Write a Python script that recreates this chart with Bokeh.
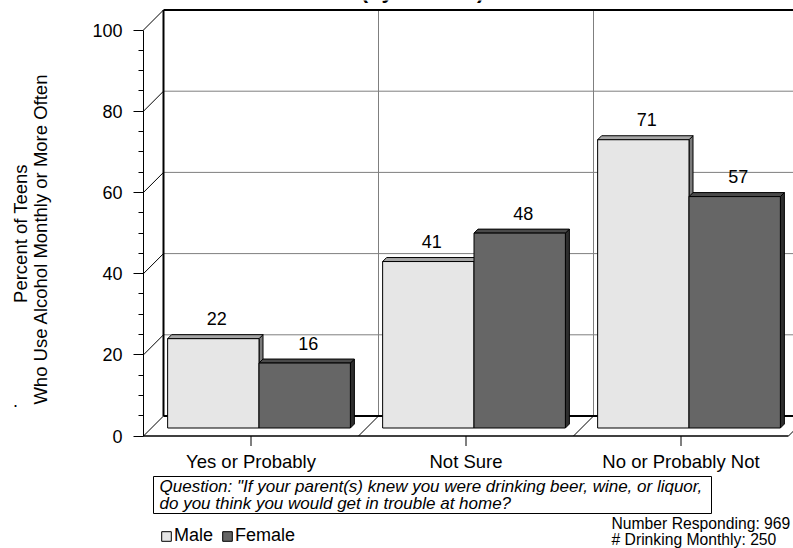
import math
from bokeh.plotting import figure
from bokeh.models import Range1d, LinearAxis, FixedTicker, Legend, LegendItem
from bokeh.core.properties import value
from bokeh.embed import file_html
from bokeh.resources import INLINE

# ---------------- data ----------------
categories = ["Yes or Probably", "Not Sure", "No or Probably Not"]
male = [22, 41, 71]
female = [16, 48, 57]
series_names = ["Male", "Female"]
y_major_ticks = [0, 20, 40, 60, 80, 100]
y_minor_ticks = [5, 10, 15, 25, 30, 35, 45, 50, 55, 65, 70, 75, 85, 90, 95]
axis_title_lines = ["Percent of Teens", "Who Use  Alcohol Monthly or More Often"]
chart_subtitle = "(by Gender)"
question_lines = ['Question:  "If your parent(s) knew you were drinking beer, wine, or liquor,',
                  'do you think you would get in trouble at home?']
number_responding = 969
drinking_monthly = 250

# ---------------- layout / style ----------------
FONT = "Liberation Sans"
PX_X = 215.0      # pixels per category
PX_Y = 4.06       # pixels per percentage point
AXIS_X = 143      # page x of the front value axis
Y0 = 435.5        # page y of value 0 on the front plane
W, H = 793, 548

def ddx(px):
    return px / PX_X

def ddy(px):
    return px / PX_Y

def X(px):
    return (px - AXIS_X) / PX_X

def Y(py):
    return (Y0 - py) / PX_Y

BACK = 20    # depth of the chart box (px)
BAR_D = 8    # depth where bar fronts sit
BAR_T = 4    # bar thickness
GROUP = 0.85
BAR_W = GROUP / 2
ncat = len(categories)
ymax = y_major_ticks[-1]

front_cols = ["#E6E6E6", "#666666"]
top_cols = ["#A6A6A6", "#4A4A4A"]
side_cols = ["#7A7A7A", "#2E2E2E"]
GRID = "#7F7F7F"

p = figure(width=W, height=H, output_backend="svg", toolbar_location=None,
           x_range=Range1d(X(0), X(W)), y_range=Range1d(Y(H), Y(0)),
           x_axis_type=None, y_axis_type=None, min_border=0)
p.outline_line_color = None
p.background_fill_color = "white"
p.border_fill_color = "white"

xb, yb = ddx(BACK), ddy(BACK)

# walls and floor
p.quad(left=xb, right=ncat + xb, bottom=yb, top=ymax + yb, fill_color="white", line_color=None)
p.patch([0, 0, xb, xb], [0, ymax, ymax + yb, yb], fill_color="white", line_color=None)
p.patch([0, ncat, ncat + xb, xb], [0, 0, yb, yb], fill_color="white", line_color=None)

inner = [t for t in y_major_ticks if 0 < t < ymax]
p.segment(x0=[xb] * len(inner), x1=[ncat + xb] * len(inner),
          y0=[t + yb for t in inner], y1=[t + yb for t in inner], line_color=GRID, line_width=1)
bounds_c = list(range(1, ncat))
p.segment(x0=[c + xb for c in bounds_c], x1=[c + xb for c in bounds_c],
          y0=[yb] * len(bounds_c), y1=[ymax + yb] * len(bounds_c), line_color=GRID, line_width=1)
# back wall top edge, left edge and floor back edge
p.segment(x0=[xb, xb, xb], x1=[ncat + xb, xb, ncat + xb],
          y0=[ymax + yb, yb, yb], y1=[ymax + yb, ymax + yb, yb], line_color="black", line_width=2)
# side wall diagonals
p.segment(x0=[0] * len(y_major_ticks), x1=[xb] * len(y_major_ticks),
          y0=y_major_ticks, y1=[t + yb for t in y_major_ticks], line_color="black", line_width=1)
# floor diagonals and front edge
fc = list(range(1, ncat + 1))
p.segment(x0=fc, x1=[c + xb for c in fc], y0=[0] * len(fc), y1=[yb] * len(fc),
          line_color="black", line_width=1)
p.segment(x0=[0], x1=[ncat], y0=[0], y1=[0], line_color="black", line_width=1.5)

# category ticks & labels
centers = [i + 0.5 for i in range(ncat)]
p.segment(x0=centers, x1=centers, y0=[0] * ncat, y1=[-ddy(10)] * ncat, line_color="black")
p.text(x=centers, y=[Y(461)] * ncat, text=categories, text_font=value(FONT),
       text_font_size="18.5px", text_align="center", text_baseline="middle", text_color="black")

# bars
tx, ty = ddx(BAR_T), ddy(BAR_T)
bar_renderers = []
for s, vals in enumerate([male, female]):
    lefts = [i + (1 - GROUP) / 2 + s * BAR_W + ddx(BAR_D) for i in range(ncat)]
    rights = [l + BAR_W for l in lefts]
    bottom = ddy(BAR_D)
    tops = [v + bottom for v in vals]
    side_xs = [[r, r, r + tx, r + tx] for r in rights]
    side_ys = [[bottom, t, t + ty, bottom + ty] for t in tops]
    top_xs = [[l, r, r + tx, l + tx] for l, r in zip(lefts, rights)]
    top_ys = [[t, t, t + ty, t + ty] for t in tops]
    p.patches(side_xs, side_ys, fill_color=side_cols[s], line_color="black", line_width=1)
    p.patches(top_xs, top_ys, fill_color=top_cols[s], line_color="black", line_width=1)
    r = p.quad(left=lefts, right=rights, bottom=[bottom] * ncat, top=tops,
               fill_color=front_cols[s], line_color="black", line_width=1)
    bar_renderers.append(r)
    p.text(x=[l + BAR_W / 2 + ddx(3.5) for l in lefts], y=[t + ddy(20) for t in tops],
           text=[str(v) for v in vals], text_font=value(FONT), text_font_size="18px",
           text_align="center", text_baseline="middle", text_color="black")

# value axis, fixed at the front-left edge of the box
yaxis = LinearAxis(ticker=FixedTicker(ticks=y_major_ticks, minor_ticks=y_minor_ticks),
                   fixed_location=0, bounds=(0, ymax), axis_line_color="black", axis_line_width=1,
                   major_tick_out=10, major_tick_in=0, minor_tick_out=5, minor_tick_in=0,
                   major_tick_line_color="black", minor_tick_line_color="black",
                   major_label_text_font=FONT, major_label_text_font_size="18px",
                   major_label_text_color="black", major_label_standoff=11)
p.add_layout(yaxis, "left")

# axis title (two rotated lines) and the stray dot beside it
p.text(x=[X(20), X(40)], y=[Y(233), Y(236)], text=axis_title_lines, angle=math.pi / 2,
       text_font=value(FONT), text_font_size="18.5px", text_align="center",
       text_baseline="middle", text_color="black")
p.text(x=[X(15)], y=[Y(400)], text=["."], text_font=value(FONT), text_font_size="18px",
       text_align="center", text_baseline="middle", text_color="black")

# subtitle, cut by the top edge as in the source
p.text(x=[X(422)], y=[Y(-10.5)], text=[chart_subtitle], text_font=value(FONT),
       text_font_size="22px", text_font_style="bold", text_align="center",
       text_baseline="alphabetic", text_color="black")

# question box
p.quad(left=X(153), right=X(711), top=Y(476), bottom=Y(513), fill_color="white",
       line_color="black", line_width=1)
p.text(x=[X(159)] * 2, y=[Y(486), Y(503)], text=question_lines, text_font=value(FONT),
       text_font_size="17px", text_font_style="italic", text_align="left",
       text_baseline="middle", text_color="black")

# sample info
p.text(x=[X(611)] * 2, y=[Y(523), Y(539)],
       text=[f"Number Responding:  {number_responding}", f"# Drinking Monthly:  {drinking_monthly}"],
       text_font=value(FONT), text_font_size="15.7px", text_align="left",
       text_baseline="middle", text_color="black")

# legend
legend = Legend(items=[LegendItem(label=n, renderers=[r]) for n, r in zip(series_names, bar_renderers)],
                orientation="horizontal", location=(160, 2), glyph_width=12, glyph_height=12,
                label_standoff=2, spacing=8, padding=0, margin=0, border_line_color=None,
                background_fill_alpha=0, label_text_font=FONT, label_text_font_size="18px",
                label_text_color="black", label_height=12)
p.add_layout(legend)

open("out.html", "w").write(file_html(p, INLINE))
